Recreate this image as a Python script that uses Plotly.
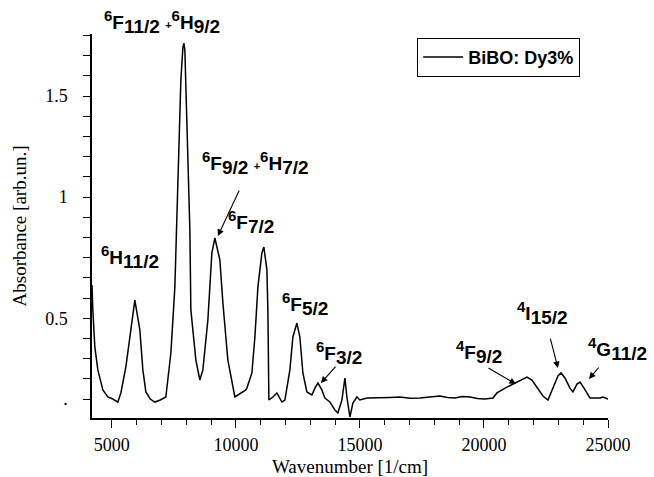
import plotly.graph_objects as go

# Wavenumber [1/cm] and absorbance
wavenumber = [4200, 4234, 4315, 4436, 4637, 4839, 5040, 5242, 5363, 5564, 5766, 5927,
              6129, 6250, 6371, 6550, 6734, 6950, 7177, 7379, 7540, 7621, 7701, 7782,
              7863, 7903, 7943, 7984, 8024, 8105, 8145, 8185, 8387, 8548, 8669, 8871,
              9032, 9153, 9355, 9476, 9677, 9959, 10201, 10403, 10443, 10645, 10766,
              10887, 11048, 11129, 11250, 11290, 11330, 11492, 11653, 11854, 11975,
              12177, 12298, 12459, 12580, 12701, 12862, 13064, 13185, 13306, 13467,
              13588, 13790, 13991, 14112, 14274, 14395, 14475, 14596, 14717, 14878,
              14999, 15282, 15806, 16210, 16612, 17020, 17418, 17820, 18225, 18530,
              18830, 19130, 19435, 19740, 20039, 20362, 20523, 20926, 21330, 21531,
              21733, 21934, 22136, 22378, 22580, 22782, 22983, 23104, 23265, 23467,
              23588, 23749, 23870, 24031, 24273, 24676, 24798, 25000]
absorbance = [0.564, 0.441, 0.257, 0.144, 0.045, 0.010, 0.000, -0.015, 0.030, 0.158, 0.342, 0.490,
              0.342, 0.144, 0.035, 0.000, -0.015, -0.005, 0.010, 0.228, 0.554, 0.886, 1.282, 1.579,
              1.738, 1.762, 1.728, 1.530, 1.332, 1.035, 0.837, 0.441, 0.193, 0.094, 0.144, 0.391,
              0.723, 0.797, 0.688, 0.475, 0.193, 0.010, 0.030, 0.045, 0.054, 0.129, 0.307,
              0.554, 0.723, 0.752, 0.639, 0.440, -0.005, 0.010, 0.030, -0.015, -0.005,
              0.144, 0.307, 0.376, 0.307, 0.129, 0.035, 0.020, 0.054, 0.079, 0.045,
              0.005, -0.015, -0.054, -0.069, -0.005, 0.104, 0.010, -0.089, -0.020, 0.010,
              -0.005, 0.005, 0.005, 0.008, 0.010, 0.004, 0.005, 0.010, 0.015, 0.008,
              0.005, 0.012, 0.010, 0.003, 0.000, 0.005, 0.030, 0.059, 0.084, 0.094,
              0.109, 0.094, 0.059, 0.015, -0.005, 0.059, 0.114, 0.129, 0.104, 0.054,
              0.035, 0.074, 0.084, 0.054, 0.005, 0.005, 0.010, 0.000]

series_name = "BiBO: Dy3%"

y_tickvals = [round(0.1 * i, 1) for i in range(19)]
y_ticktext = {0.0: ".", 0.4: "0.5", 1.0: "1", 1.5: "1.5"}

# transition terms: (multiplicity, letter, J)
terms = {
    "6F11": ("6", "F", "11/2"), "6H9": ("6", "H", "9/2"),
    "6F9": ("6", "F", "9/2"), "6H7": ("6", "H", "7/2"),
    "6F7": ("6", "F", "7/2"), "6H11": ("6", "H", "11/2"),
    "6F5": ("6", "F", "5/2"), "6F3": ("6", "F", "3/2"),
    "4F9": ("4", "F", "9/2"), "4I15": ("4", "I", "15/2"), "4G11": ("4", "G", "11/2"),
}


def term(key):
    m, l, j = terms[key]
    return ("<sup><span style='font-size:15px'>%s</span></sup>%s"
            "<sub><span style='font-size:19px'>%s</span></sub>" % (m, l, j))


PLUS = " <span style='font-size:11px'>+</span>"
# label groups and their centres (paper coords)
label_groups = [
    (["6F11", "6H9"], 0.1357, 1.031),
    (["6F9", "6H7"], 0.3178, 0.664),
    (["6F7"], 0.308, 0.510),
    (["6H11"], 0.0736, 0.419),
    (["6F5"], 0.4128, 0.297),
    (["6F3"], 0.4787, 0.169),
    (["4F9"], 0.750, 0.172),
    (["4I15"], 0.874, 0.273),
    (["4G11"], 1.019, 0.180),
]
# arrows: head x, head y (data), tail offset (px)
arrows = [
    (9274, 0.807, 22, -47),
    (13427, 0.079, 16, -18),
    (21289, 0.074, -29, -17),
    (22983, 0.153, -8, -31),
    (24233, 0.099, 11, -13),
]

fig = go.Figure()
fig.add_trace(go.Scatter(x=wavenumber, y=absorbance, mode="lines", name="<b>" + series_name + "</b>",
                         line=dict(color="black", width=1.5)))

for keys, x, y in label_groups:
    txt = PLUS.join(term(k) for k in keys)
    fig.add_annotation(x=x, y=y, xref="paper", yref="paper", text="<b>" + txt + "</b>",
                       showarrow=False, xanchor="center", yanchor="middle",
                       font=dict(family="Liberation Sans", size=19, color="black"))
for x, y, ax, ay in arrows:
    fig.add_annotation(x=x, y=y, ax=ax, ay=ay, text="", showarrow=True,
                       arrowhead=2, arrowsize=1.2, arrowwidth=1.1, arrowcolor="black")

fig.update_layout(
    width=654, height=477,
    margin=dict(l=92, r=46, t=34, b=59),
    paper_bgcolor="white", plot_bgcolor="white",
    showlegend=True,
    legend=dict(x=0.946, y=0.99, xanchor="right", yanchor="top",
                bordercolor="black", borderwidth=1, bgcolor="white",
                font=dict(family="Liberation Sans", size=18, color="black"),
                itemwidth=40, tracegroupgap=0),
    font=dict(family="Liberation Serif", color="black"),
)
fig.update_xaxes(range=[4200, 25000], showgrid=False, zeroline=False, automargin=False,
                 showline=True, linecolor="black", linewidth=1.5,
                 ticks="outside", ticklen=8, tickwidth=1.2, tickcolor="black",
                 tick0=5000, dtick=5000, tickformat="d", exponentformat="none",
                 ticklabelstandoff=2,
                 minor=dict(dtick=1000, ticks="outside", ticklen=5, tickwidth=1.2, tickcolor="black", showgrid=False),
                 tickfont=dict(family="Liberation Serif", size=18, color="black"),
                 title=dict(text="Wavenumber [1/cm]", standoff=16,
                            font=dict(family="Liberation Serif", size=19, color="black")))
fig.update_yaxes(range=[-0.094, 1.807], showgrid=False, zeroline=False, automargin=False,
                 showline=True, linecolor="black", linewidth=1.5,
                 ticks="outside", ticklen=7, tickwidth=1.2, tickcolor="black",
                 tickmode="array", tickvals=y_tickvals,
                 ticktext=[y_ticktext.get(v, "") for v in y_tickvals],
                 ticklabelstandoff=12,
                 tickfont=dict(family="Liberation Serif", size=18, color="black"),
                 title=dict(text="Absorbance [arb.un.]", standoff=14,
                            font=dict(family="Liberation Serif", size=19, color="black")))

fig.write_html("out.html")
